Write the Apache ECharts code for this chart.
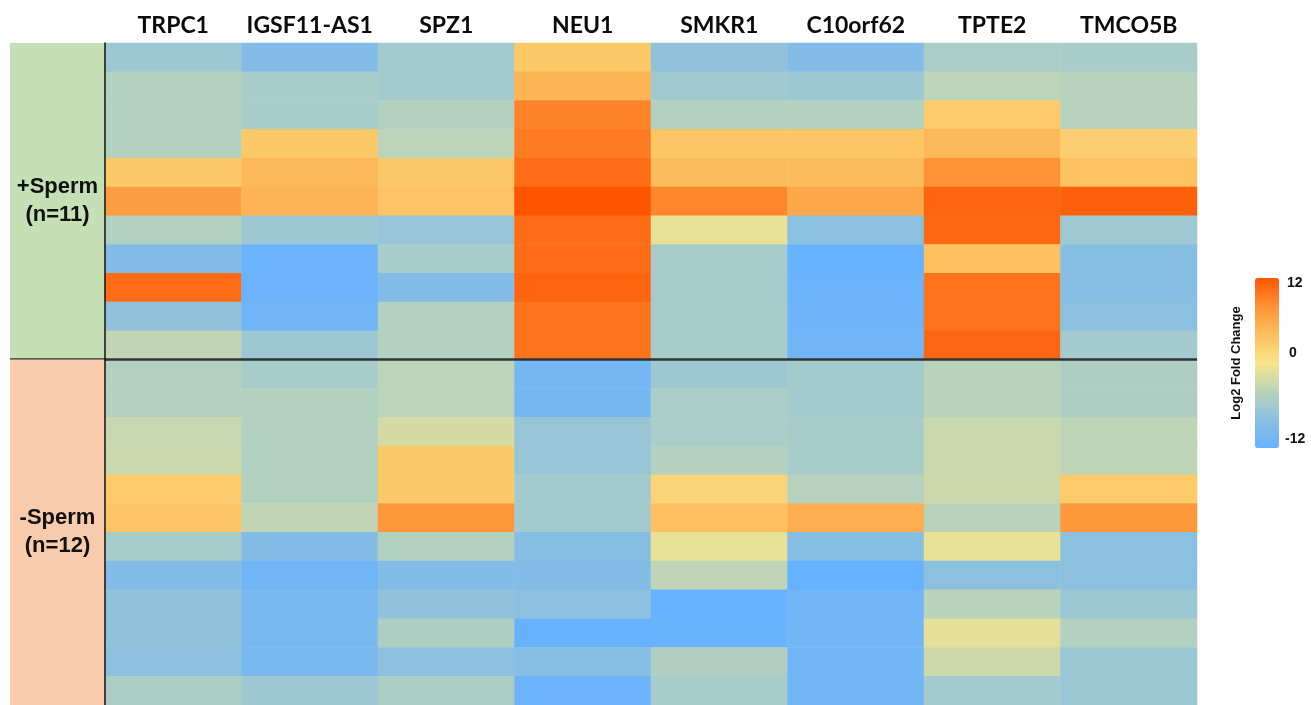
<!DOCTYPE html>
<html>
<head>
    <meta charset="utf-8">
    <title>ECharts</title>
    <script src="https://cdn.jsdelivr.net/npm/echarts@6/dist/echarts.min.js"></script>
    <style type="text/css">
    html, body { margin: 0; padding: 0; background: #fff; }
    </style>
</head>
<body>
    <div id="main" style="width: 1311px;height:705px;"></div>
    <script type="text/javascript">
        // genes (columns)
        var genes = ['TRPC1', 'IGSF11-AS1', 'SPZ1', 'NEU1', 'SMKR1', 'C10orf62', 'TPTE2', 'TMCO5B'];
        // groups: name, first row, last row
        var groupNames = ['+Sperm\n(n=11)', '-Sperm\n(n=12)'];
        var groupRows = [[0, 10], [11, 22]];

        // log2 fold change per sample, rows 0-10 = +Sperm, 11-22 = -Sperm
        var trpc1 = [-6.5, -4.5, -4.5, -4.5, 3, 7, -4.5, -9, 10.5, -7.5, -3.5,
                     -4.5, -4.5, -3.2, -3, 2.8, 3.5, -5.5, -9, -7.5, -7.5, -8, -5.2];
        var igsf11 = [-9, -5.5, -5.5, 3, 4.5, 5, -6.5, -11.5, -11.5, -11, -6.5,
                      -5.5, -4.5, -4.5, -4.5, -4.5, -3.5, -9, -11, -10, -10, -10, -6.5];
        var spz1 = [-6, -6, -4.5, -3.8, 3, 3.5, -7, -5.5, -9, -4.5, -4.5,
                    -3.8, -3.8, -2.2, 3, 3, 7.5, -4.5, -9, -7.5, -5, -8, -5.2];
        var neu1 = [3, 5, 9, 9.5, 10.5, 12, 10.5, 10.5, 11, 10, 10,
                    -10.5, -10.5, -7, -7, -6, -6, -8.5, -9, -8, -12, -8.5, -11.5];
        var smkr1 = [-7.5, -6.3, -4.5, 3.3, 4.3, 8.8, -1, -5.5, -5.7, -5.5, -5.5,
                     -6.5, -5.3, -5.3, -4.5, 1.8, 3.8, -1, -3.6, -12, -11.7, -4.8, -5.5];
        var c10orf62 = [-9, -6.5, -4.5, 3.3, 4.3, 6, -8, -12, -11.5, -11.3, -11,
                        -6, -6, -5.5, -5.5, -4.3, 5.5, -8.5, -12, -11, -10.8, -11, -11];
        var tpte2 = [-5.3, -3.8, 2.8, 4.5, 8, 11, 10.7, 3.8, 10, 10, 10.8,
                     -4, -4, -3, -3, -2.8, -4, -1, -8, -4, -1.2, -2.8, -6];
        var tmco5b = [-5.5, -4.2, -4.2, 2.3, 3.7, 11.2, -6.3, -8.5, -8.5, -8, -6,
                      -5, -5, -3.7, -3.7, 2.8, 7.5, -8, -8, -6.7, -4.5, -6.7, -6.7];

        var legendTicks = ['12', '0', '-12'];

        var columns = [trpc1, igsf11, spz1, neu1, smkr1, c10orf62, tpte2, tmco5b];
        var rows = [];
        for (var r = 0; r < trpc1.length; r++) rows.push('s' + r);

        var heatData = [];
        columns.forEach(function (col, c) {
            col.forEach(function (v, r) {
                heatData.push([c, r, v]);
            });
        });

        var bandColors = ['#c5e0b4', '#f8cbad'];

        // coloured group bands on the left
        function renderBand(params, api) {
            var h = api.size([0, 1])[1];
            var p0 = api.coord([0, api.value(0)]);
            var p1 = api.coord([1, api.value(1)]);
            var y0 = p0[1] - h / 2, y1 = p1[1] + h / 2;
            var children = [{
                type: 'rect',
                shape: { x: p0[0], y: y0, width: p1[0] - p0[0], height: y1 - y0 },
                style: { fill: bandColors[params.dataIndex] }
            }, {
                type: 'text',
                style: {
                    text: groupNames[params.dataIndex],
                    x: (p0[0] + p1[0]) / 2,
                    y: (y0 + y1) / 2,
                    align: 'center',
                    verticalAlign: 'middle',
                    font: 'bold 22px "Liberation Sans"',
                    lineHeight: 28,
                    fill: '#111'
                }
            }];
            if (params.dataIndex === 0) {
                children.push({
                    type: 'line',
                    shape: { x1: p0[0], y1: y1, x2: p1[0] + 2, y2: y1 },
                    style: { stroke: '#333', lineWidth: 2.5 }
                });
            }
            return { type: 'group', children: children };
        }

        // divider between the two groups across the heatmap
        function renderDivider(params, api) {
            var w = api.size([1, 0])[0];
            var h = api.size([0, 1])[1];
            var a = api.coord([0, api.value(1)]);
            var b = api.coord([genes.length - 1, api.value(1)]);
            var y = a[1] + h / 2;
            return {
                type: 'line',
                shape: { x1: a[0] - w / 2, y1: y, x2: b[0] + w / 2, y2: y },
                style: { stroke: '#333', lineWidth: 2.5 }
            };
        }

        var myChart = echarts.init(document.getElementById('main'));
        var option = {
            animation: false,
            grid: [
                { left: 105, right: 114, top: 43, bottom: 0 },
                { left: 10, width: 95, top: 43, bottom: 0 }
            ],
            xAxis: [{
                type: 'category',
                gridIndex: 0,
                position: 'top',
                data: genes,
                axisLine: { show: false },
                axisTick: { show: false },
                axisLabel: {
                    interval: 0,
                    margin: 6,
                    color: '#0a0a0a',
                    fontFamily: 'Lato',
                    fontWeight: 'bold',
                    fontSize: 23
                }
            }, {
                type: 'value',
                gridIndex: 1,
                min: 0,
                max: 1,
                show: false
            }],
            yAxis: [{
                type: 'category',
                gridIndex: 0,
                inverse: true,
                data: rows,
                axisLine: { show: true, lineStyle: { color: '#111', width: 1.5 } },
                axisTick: { show: false },
                axisLabel: { show: false },
                z: 10
            }, {
                type: 'category',
                gridIndex: 1,
                inverse: true,
                data: rows,
                show: false
            }],
            visualMap: {
                type: 'continuous',
                seriesIndex: 0,
                min: -12,
                max: 12,
                calculable: false,
                orient: 'vertical',
                left: 1255,
                top: 278,
                padding: 0,
                itemWidth: 24,
                itemHeight: 170,
                text: ['', ''],
                showLabel: false,
                inRange: {
                    color: ['#66b2ff', '#8cc0df', '#b9d3bb', '#f8e58a', '#fdbf5e', '#fd9238', '#ff5500']
                }
            },
            graphic: [
                { type: 'text', left: 1287, top: 276, style: { text: legendTicks[0], font: 'bold 14px "Liberation Sans"', fill: '#111' } },
                { type: 'text', left: 1289, top: 346, style: { text: legendTicks[1], font: 'bold 14px "Liberation Sans"', fill: '#111' } },
                { type: 'text', left: 1285, top: 432, style: { text: legendTicks[2], font: 'bold 14px "Liberation Sans"', fill: '#111' } },
                {
                    type: 'text',
                    x: 1236,
                    y: 363,
                    rotation: Math.PI / 2,
                    style: {
                        text: 'Log2 Fold Change',
                        font: 'bold 13px "Liberation Sans"',
                        fill: '#111',
                        align: 'center',
                        verticalAlign: 'middle'
                    }
                }
            ],
            series: [{
                type: 'heatmap',
                xAxisIndex: 0,
                yAxisIndex: 0,
                data: heatData,
                itemStyle: { borderWidth: 0 },
                emphasis: { disabled: true }
            }, {
                type: 'custom',
                xAxisIndex: 1,
                yAxisIndex: 1,
                data: groupRows,
                renderItem: renderBand,
                z: 5
            }, {
                type: 'custom',
                xAxisIndex: 0,
                yAxisIndex: 0,
                data: [[0, groupRows[0][1]]],
                renderItem: renderDivider,
                z: 5
            }]
        };
        myChart.setOption(option);
    </script>
</body>
</html>
